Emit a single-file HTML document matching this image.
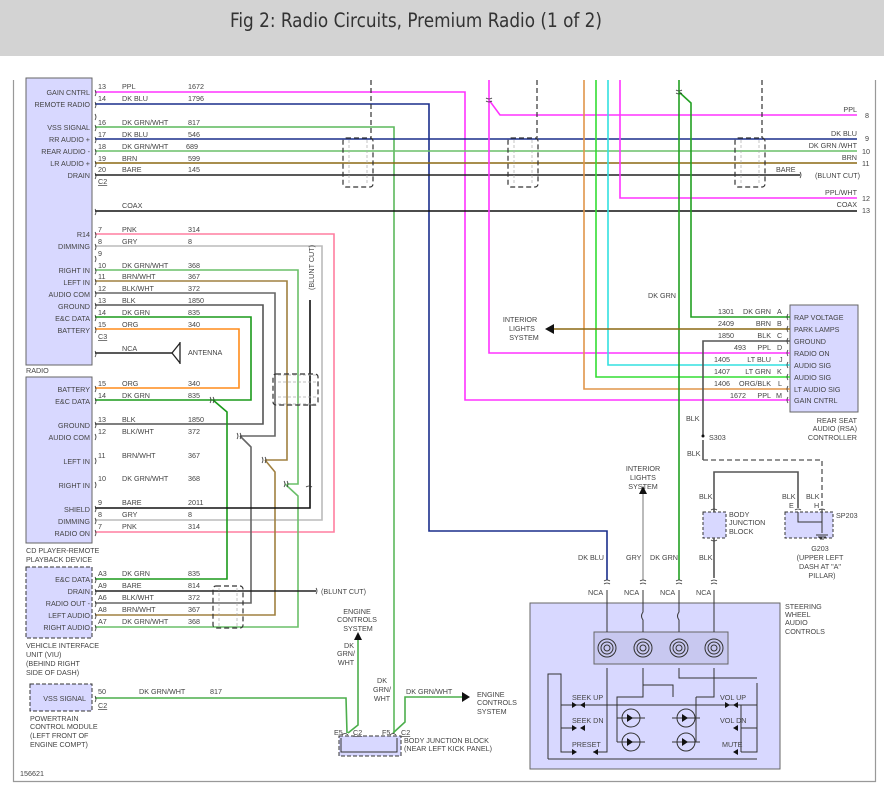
<!DOCTYPE html>
<html><head><meta charset="utf-8"><style>
html,body{margin:0;padding:0;background:#fff;}
svg{display:block;}
text{font-family:"Liberation Sans",sans-serif;font-size:7.2px;fill:#444;}
.t{font-size:7.6px;}
</style></head><body>
<svg width="884" height="802" viewBox="0 0 884 802" xmlns="http://www.w3.org/2000/svg">
<rect x="0" y="0" width="884" height="56" fill="#d3d3d3"/>
<text x="416" y="27" text-anchor="middle" style="font-size:19.5px;fill:#333;font-family:'DejaVu Sans Condensed','Liberation Sans Narrow','Liberation Sans',sans-serif" textLength="372" lengthAdjust="spacingAndGlyphs">Fig 2: Radio Circuits, Premium Radio (1 of 2)</text>
<!-- frame -->
<path d="M13.5 80 V781.5 H875.5 V80" fill="none" stroke="#999" stroke-width="1.2"/>
<!-- boxes -->
<rect x="26" y="78" width="66" height="287" fill="#d8d8ff" stroke="#666" stroke-width="1"/>
<rect x="26" y="377" width="66" height="166" fill="#d8d8ff" stroke="#666" stroke-width="1"/>
<rect x="26" y="567" width="66" height="71" fill="#d8d8ff" stroke="#333" stroke-width="1" stroke-dasharray="4,2"/>
<rect x="30" y="684" width="62" height="27" fill="#d8d8ff" stroke="#333" stroke-width="1" stroke-dasharray="4,2"/>
<rect x="339" y="736" width="62" height="20" fill="#d8d8ff" stroke="#333" stroke-width="1" stroke-dasharray="4,2"/>
<rect x="790" y="305" width="68" height="107" fill="#d8d8ff" stroke="#666" stroke-width="1"/>
<rect x="530" y="603" width="250" height="166" fill="#d8d8ff" stroke="#666" stroke-width="1"/>
<rect x="594" y="632" width="134" height="32" fill="#c8c8f0" stroke="#666" stroke-width="1"/>
<rect x="703" y="512" width="23" height="26" fill="#d8d8ff" stroke="#333" stroke-dasharray="3,2"/>
<rect x="785" y="512" width="48" height="26" fill="#d8d8ff" stroke="#333" stroke-dasharray="3,2"/>

<g fill="none" stroke-width="1.6">
<path d="M95 92 H465 V400 H790" stroke="#ff33ff"/>
<path d="M95 104 H429 V531 H607 V580" stroke="#1a2e8c"/>
<path d="M95 127 H394 V733" stroke="#5cb85c"/>
<path d="M95 139 H857" stroke="#1a2e8c"/>
<path d="M95 151 H857" stroke="#6abf69"/>
<path d="M95 163 H857" stroke="#8b6914"/>
<path d="M95 175 H800" stroke="#222"/>
<path d="M95 211 H857" stroke="#111"/>
<path d="M489 80 V100 L500 115 H857 M489 100 V353 H790" stroke="#ff33ff"/>
<path d="M620 80 V198 H857" stroke="#ff33ff"/>
<path d="M584 80 V389 H790" stroke="#e0954a"/>
<path d="M596 80 V377 H790" stroke="#33dd33"/>
<path d="M608 80 V365 H790" stroke="#33e0e0"/>
<path d="M679 80 V580" stroke="#22a022"/>
<path d="M679 92 L691 103 V317 H790" stroke="#22a022"/>
<path d="M790 329 H550" stroke="#8b6914"/>
<path d="M790 341 H703 V436 M703 440 V460" stroke="#555"/>
<path d="M95 234 H334 V532 H95" stroke="#ff7fa0"/>
<path d="M95 246 H322 V520 H95" stroke="#bbb"/>
<path d="M95 270 H298 V484 H287 M285 484 L298 496 V627 H95" stroke="#6abf69"/>
<path d="M95 281 H287 V460 H265 M265 460 L275 472 V615 H95" stroke="#a08040"/>
<path d="M95 293 H275 V436 H240 M240 436 L251 447 V603 H95" stroke="#666"/>
<path d="M95 305 H263 V424 H95" stroke="#555"/>
<path d="M95 317 H251 V400 H95 M213 400 L227 412 V579 H95" stroke="#1a9a1a"/>
<path d="M95 329 H239 V388 H95" stroke="#ff8c1a"/>
<path d="M310 300 V508 H95" stroke="#111"/>
<path d="M95 591 H316" stroke="#222"/>
<path d="M95 353 H172" stroke="#222"/>
<path d="M95 698 H346 L347 733 M348 733 L358 725 V638 M393 733 L405 722 V697 H462" stroke="#4cae4c"/>
<path d="M643 580 V492" stroke="#aaa"/>
<path d="M714 578 V538 M714 512 V472 H798 V508" stroke="#555"/>
</g>
<path d="M703 460 H822 V512" fill="none" stroke="#555" stroke-width="1.3" stroke-dasharray="5,3"/>
<path d="M545 329 l9 -5 v10z M643 486 l-4 8 h8z M358 632 l-4 8 h8z M470 697 l-8 -5 v10z" fill="#111"/>
<path d="M172 353 L180 343 M172 353 L180 363 M180 342 V364" stroke="#222" fill="none" stroke-width="1.3"/>
<g stroke="#333" stroke-width="1.2" stroke-dasharray="5,3" fill="none">
<path d="M371 80 V138 M537 80 V138 M762 80 V138"/>
<rect x="343" y="138" width="30" height="49" rx="3"/>
<rect x="508" y="138" width="30" height="49" rx="3"/>
<rect x="735" y="138" width="30" height="49" rx="3"/>
<rect x="273" y="374" width="45" height="31" rx="3"/>
<rect x="213" y="586" width="30" height="42" rx="3"/>
</g>
<g stroke="#aaa" stroke-width="0.7" stroke-dasharray="3,2" fill="none">
<path d="M349 140 V185 M367 140 V185 M514 140 V185 M532 140 V185 M741 140 V185 M759 140 V185 M219 588 V626 M237 588 V626"/>
<path d="M278 375 H316 M278 382 H316 M278 397 H316 M278 404 H316"/>
</g>
<g fill="none" stroke="#333" stroke-width="0.8">
<path d="M95 90 q2 3 0 6 M95 102 q2 3 0 6 M95 114 q2 3 0 6 M95 125 q2 3 0 6 M95 137 q2 3 0 6 M95 149 q2 3 0 6 M95 161 q2 3 0 6 M95 173 q2 3 0 6 M95 209 q2 3 0 6"/>
<path d="M95 232 q2 3 0 6 M95 244 q2 3 0 6 M95 256 q2 3 0 6 M95 268 q2 3 0 6 M95 279 q2 3 0 6 M95 291 q2 3 0 6 M95 303 q2 3 0 6 M95 315 q2 3 0 6 M95 327 q2 3 0 6 M95 351 q2 3 0 6"/>
<path d="M95 386 q2 3 0 6 M95 398 q2 3 0 6 M95 422 q2 3 0 6 M95 434 q2 3 0 6 M95 458 q2 3 0 6 M95 482 q2 3 0 6 M95 506 q2 3 0 6 M95 518 q2 3 0 6 M95 530 q2 3 0 6"/>
<path d="M95 577 q2 3 0 6 M95 589 q2 3 0 6 M95 601 q2 3 0 6 M95 613 q2 3 0 6 M95 625 q2 3 0 6 M95 696 q2 3 0 6"/>
<path d="M210 397 q2 3 0 6 M213 397 q2 3 0 6 M237 433 q2 3 0 6 M240 433 q2 3 0 6 M262 457 q2 3 0 6 M265 457 q2 3 0 6 M284 481 q2 3 0 6 M287 481 q2 3 0 6"/>
<path d="M316 588 q2 3 0 6 M800 172 q2 3 0 6 M312 487 q-3 -2 -6 0"/>
<path d="M788 314 q-2 3 0 6 M788 326 q-2 3 0 6 M788 338 q-2 3 0 6 M788 350 q-2 3 0 6 M788 362 q-2 3 0 6 M788 374 q-2 3 0 6 M788 386 q-2 3 0 6 M788 397 q-2 3 0 6"/>
<path d="M486 98 q3 2 6 0 M486 101 q3 2 6 0 M676 90 q3 2 6 0 M676 93 q3 2 6 0"/>
<path d="M604 581 q3 -2 6 0 M604 584 q3 -2 6 0 M640 581 q3 -2 6 0 M640 584 q3 -2 6 0 M676 581 q3 -2 6 0 M676 584 q3 -2 6 0 M711 581 q3 -2 6 0 M711 584 q3 -2 6 0"/>
<path d="M711 510 q3 -2 6 0 M711 540 q3 2 6 0 M795 510 q3 -2 6 0 M819 510 q3 -2 6 0 M342 735 q3 -3 6 0 M390 735 q3 -3 6 0"/>
</g>
<path d="M341 738 V752 H397 V738" fill="none" stroke="#333" stroke-width="1"/>
<path d="M798 512 V522 H822 V533 M822 512 V533 M816 535 h12 M818 537 h8 M820 539 h4" fill="none" stroke="#333" stroke-width="1"/>
<g fill="none" stroke="#333" stroke-width="1">
<path d="M607 590 V632 M643 590 V612 q-3 4 0 8 V632 M679 590 V612 q-3 4 0 8 V632 M714 590 V632"/>
<circle cx="607" cy="648" r="9"/><circle cx="607" cy="648" r="6"/><circle cx="607" cy="648" r="3"/>
<circle cx="643" cy="648" r="9"/><circle cx="643" cy="648" r="6"/><circle cx="643" cy="648" r="3"/>
<circle cx="679" cy="648" r="9"/><circle cx="679" cy="648" r="6"/><circle cx="679" cy="648" r="3"/>
<circle cx="714" cy="648" r="9"/><circle cx="714" cy="648" r="6"/><circle cx="714" cy="648" r="3"/>
<path d="M607 668 V752 H593 M643 668 V685 H673 V697 M643 685 V697 H617 V742 M679 668 V678 H757 M714 668 V697 H696 M696 697 V742 H686 M617 742 H627"/>
<path d="M548 759 V674 H561 V752 H575 M561 728 H575 M561 705 H757 M757 683 V752 H741 M757 728 H741 M741 705 V752 M741 705 H730 M757 759 H548"/>
<circle cx="631" cy="718" r="9"/><circle cx="631" cy="742" r="9"/><circle cx="686" cy="718" r="9"/><circle cx="686" cy="742" r="9"/>
<path d="M617 718 H645 M672 718 H700 M617 742 H645 M672 742 H700"/>
</g>
<g fill="#111"><path d="M627 714 l6 4 l-6 4z M627 738 l6 4 l-6 4z M682 714 l6 4 l-6 4z M682 738 l6 4 l-6 4z M577 705 l-5 -3 v6z M580 705 l5 -3 v6z M577 728 l-5 -3 v6z M580 728 l5 -3 v6z M577 752 l-5 -3 v6z M593 752 l5 -3 v6z M733 705 l5 -3 v6z M730 705 l-5 -3 v6z M733 728 l5 -3 v6z M733 752 l5 -3 v6z"/>
<circle cx="703" cy="436" r="1.5"/></g>

<g class="t" text-anchor="end">
<text x="90" y="95">GAIN CNTRL</text><text x="90" y="107">REMOTE RADIO</text><text x="90" y="130">VSS SIGNAL</text><text x="90" y="142">RR AUDIO +</text><text x="90" y="154">REAR AUDIO -</text><text x="90" y="166">LR AUDIO +</text><text x="90" y="178">DRAIN</text>
<text x="90" y="237">R14</text><text x="90" y="249">DIMMING</text><text x="90" y="273">RIGHT IN</text><text x="90" y="285">LEFT IN</text><text x="90" y="297">AUDIO COM</text><text x="90" y="309">GROUND</text><text x="90" y="321">E&amp;C DATA</text><text x="90" y="333">BATTERY</text>
<text x="90" y="392">BATTERY</text><text x="90" y="404">E&amp;C DATA</text><text x="90" y="428">GROUND</text><text x="90" y="440">AUDIO COM</text><text x="90" y="464">LEFT IN</text><text x="90" y="488">RIGHT IN</text><text x="90" y="512">SHIELD</text><text x="90" y="524">DIMMING</text><text x="90" y="536">RADIO ON</text>
<text x="90" y="582">E&amp;C DATA</text><text x="90" y="594">DRAIN</text><text x="90" y="606">RADIO OUT -</text><text x="90" y="618">LEFT AUDIO</text><text x="90" y="630">RIGHT AUDIO</text>
<text x="86" y="701">VSS SIGNAL</text>
</g>
<g>
<text x="98" y="89">13</text><text x="122" y="89">PPL</text><text x="188" y="89">1672</text>
<text x="98" y="101">14</text><text x="122" y="101">DK BLU</text><text x="188" y="101">1796</text>
<text x="98" y="125">16</text><text x="122" y="125">DK GRN/WHT</text><text x="188" y="125">817</text>
<text x="98" y="137">17</text><text x="122" y="137">DK BLU</text><text x="188" y="137">546</text>
<text x="98" y="149">18</text><text x="122" y="149">DK GRN/WHT</text><text x="186" y="149">689</text>
<text x="98" y="161">19</text><text x="122" y="161">BRN</text><text x="188" y="161">599</text>
<text x="98" y="172">20</text><text x="122" y="172">BARE</text><text x="188" y="172">145</text>
<text x="98" y="184" text-decoration="underline">C2</text>
<text x="122" y="208">COAX</text>
<text x="98" y="232">7</text><text x="122" y="232">PNK</text><text x="188" y="232">314</text>
<text x="98" y="244">8</text><text x="122" y="244">GRY</text><text x="188" y="244">8</text>
<text x="98" y="256">9</text>
<text x="98" y="268">10</text><text x="122" y="268">DK GRN/WHT</text><text x="188" y="268">368</text>
<text x="98" y="279">11</text><text x="122" y="279">BRN/WHT</text><text x="188" y="279">367</text>
<text x="98" y="291">12</text><text x="122" y="291">BLK/WHT</text><text x="188" y="291">372</text>
<text x="98" y="303">13</text><text x="122" y="303">BLK</text><text x="188" y="303">1850</text>
<text x="98" y="315">14</text><text x="122" y="315">DK GRN</text><text x="188" y="315">835</text>
<text x="98" y="327">15</text><text x="122" y="327">ORG</text><text x="188" y="327">340</text>
<text x="98" y="339" text-decoration="underline">C3</text>
<text x="122" y="351">NCA</text><text x="188" y="355">ANTENNA</text>
<text x="26" y="373">RADIO</text>
<text x="98" y="386">15</text><text x="122" y="386">ORG</text><text x="188" y="386">340</text>
<text x="98" y="398">14</text><text x="122" y="398">DK GRN</text><text x="188" y="398">835</text>
<text x="98" y="422">13</text><text x="122" y="422">BLK</text><text x="188" y="422">1850</text>
<text x="98" y="434">12</text><text x="122" y="434">BLK/WHT</text><text x="188" y="434">372</text>
<text x="98" y="458">11</text><text x="122" y="458">BRN/WHT</text><text x="188" y="458">367</text>
<text x="98" y="481">10</text><text x="122" y="481">DK GRN/WHT</text><text x="188" y="481">368</text>
<text x="98" y="505">9</text><text x="122" y="505">BARE</text><text x="188" y="505">2011</text>
<text x="98" y="517">8</text><text x="122" y="517">GRY</text><text x="188" y="517">8</text>
<text x="98" y="529">7</text><text x="122" y="529">PNK</text><text x="188" y="529">314</text>
<text x="26" y="553">CD PLAYER-REMOTE</text><text x="26" y="562">PLAYBACK DEVICE</text>
<text x="98" y="576">A3</text><text x="122" y="576">DK GRN</text><text x="188" y="576">835</text>
<text x="98" y="588">A9</text><text x="122" y="588">BARE</text><text x="188" y="588">814</text>
<text x="98" y="600">A6</text><text x="122" y="600">BLK/WHT</text><text x="188" y="600">372</text>
<text x="98" y="612">A8</text><text x="122" y="612">BRN/WHT</text><text x="188" y="612">367</text>
<text x="98" y="624">A7</text><text x="122" y="624">DK GRN/WHT</text><text x="188" y="624">368</text>
<text x="321" y="594">(BLUNT CUT)</text>
<text x="26" y="648">VEHICLE INTERFACE</text><text x="26" y="657">UNIT (VIU)</text><text x="26" y="666">(BEHIND RIGHT</text><text x="26" y="675">SIDE OF DASH)</text>
<text x="98" y="694">50</text><text x="98" y="708" text-decoration="underline">C2</text>
<text x="139" y="694">DK GRN/WHT</text><text x="210" y="694">817</text>
<text x="30" y="721">POWERTRAIN</text><text x="30" y="729">CONTROL MODULE</text><text x="30" y="738">(LEFT FRONT OF</text><text x="30" y="747">ENGINE COMPT)</text>
<text x="20" y="776">156621</text>
<text transform="translate(314,290) rotate(-90)">(BLUNT CUT)</text>
<g text-anchor="middle"><text x="357" y="614">ENGINE</text><text x="357" y="622">CONTROLS</text><text x="358" y="631">SYSTEM</text>
<text x="349" y="648">DK</text><text x="346" y="656">GRN/</text><text x="346" y="665">WHT</text>
<text x="382" y="683">DK</text><text x="382" y="692">GRN/</text><text x="382" y="701">WHT</text></g>
<text x="406" y="694">DK GRN/WHT</text>
<text x="477" y="697">ENGINE</text><text x="477" y="705">CONTROLS</text><text x="477" y="714">SYSTEM</text>
<text x="334" y="735">E5</text><text x="353" y="735" text-decoration="underline">C2</text>
<text x="382" y="735">F5</text><text x="401" y="735" text-decoration="underline">C2</text>
<text x="404" y="743">BODY JUNCTION BLOCK</text><text x="404" y="751">(NEAR LEFT KICK PANEL)</text>
</g>
<g>
<g text-anchor="end"><text x="857" y="112">PPL</text><text x="857" y="136">DK BLU</text><text x="857" y="148">DK GRN /WHT</text><text x="857" y="160">BRN</text><text x="857" y="195">PPL/WHT</text><text x="857" y="207">COAX</text></g>
<text x="865" y="118">8</text><text x="865" y="141">9</text><text x="862" y="154">10</text><text x="862" y="166">11</text><text x="862" y="201">12</text><text x="862" y="213">13</text>
<text x="776" y="172">BARE</text><text x="815" y="178">(BLUNT CUT)</text>
<text x="648" y="298">DK GRN</text>
<g text-anchor="middle"><text x="520" y="322">INTERIOR</text><text x="522" y="331">LIGHTS</text><text x="524" y="340">SYSTEM</text></g>
<g text-anchor="end">
<text x="734" y="314">1301</text><text x="771" y="314">DK GRN</text>
<text x="734" y="326">2409</text><text x="771" y="326">BRN</text>
<text x="734" y="338">1850</text><text x="771" y="338">BLK</text>
<text x="746" y="350">493</text><text x="771" y="350">PPL</text>
<text x="730" y="362">1405</text><text x="771" y="362">LT BLU</text>
<text x="730" y="374">1407</text><text x="771" y="374">LT GRN</text>
<text x="730" y="386">1406</text><text x="771" y="386">ORG/BLK</text>
<text x="746" y="398">1672</text><text x="771" y="398">PPL</text>
</g>
<text x="777" y="314">A</text><text x="777" y="326">B</text><text x="777" y="338">C</text><text x="777" y="350">D</text><text x="779" y="362">J</text><text x="777" y="374">K</text><text x="778" y="386">L</text><text x="776" y="398">M</text>
<text x="794" y="320">RAP VOLTAGE</text><text x="794" y="332">PARK LAMPS</text><text x="794" y="344">GROUND</text><text x="794" y="356">RADIO ON</text><text x="794" y="368">AUDIO SIG</text><text x="794" y="380">AUDIO SIG</text><text x="794" y="392">LT AUDIO SIG</text><text x="794" y="403">GAIN CNTRL</text>
<g text-anchor="end"><text x="857" y="423">REAR SEAT</text><text x="857" y="431">AUDIO (RSA)</text><text x="857" y="440">CONTROLLER</text></g>
<text x="686" y="421">BLK</text><text x="709" y="440">S303</text><text x="687" y="456">BLK</text>
<g text-anchor="middle"><text x="643" y="471">INTERIOR</text><text x="643" y="480">LIGHTS</text><text x="643" y="489">SYSTEM</text></g>
<text x="699" y="499">BLK</text><text x="729" y="517">BODY</text><text x="729" y="525">JUNCTION</text><text x="729" y="534">BLOCK</text>
<text x="782" y="499">BLK</text><text x="806" y="499">BLK</text><text x="789" y="508">E</text><text x="814" y="508">H</text><text x="836" y="518">SP203</text>
<g text-anchor="middle"><text x="820" y="551">G203</text><text x="820" y="560">(UPPER LEFT</text><text x="820" y="569">DASH AT "A"</text><text x="822" y="578">PILLAR)</text></g>
<text x="578" y="560">DK BLU</text><text x="626" y="560">GRY</text><text x="650" y="560">DK GRN</text><text x="699" y="560">BLK</text>
<text x="588" y="595">NCA</text><text x="624" y="595">NCA</text><text x="660" y="595">NCA</text><text x="696" y="595">NCA</text>
<text x="785" y="609">STEERING</text><text x="785" y="617">WHEEL</text><text x="785" y="625">AUDIO</text><text x="785" y="634">CONTROLS</text>
<text x="572" y="700">SEEK UP</text><text x="572" y="723">SEEK DN</text><text x="572" y="747">PRESET</text>
<text x="720" y="700">VOL UP</text><text x="720" y="723">VOL DN</text><text x="722" y="747">MUTE</text>
</g>
</svg>
</body></html>
